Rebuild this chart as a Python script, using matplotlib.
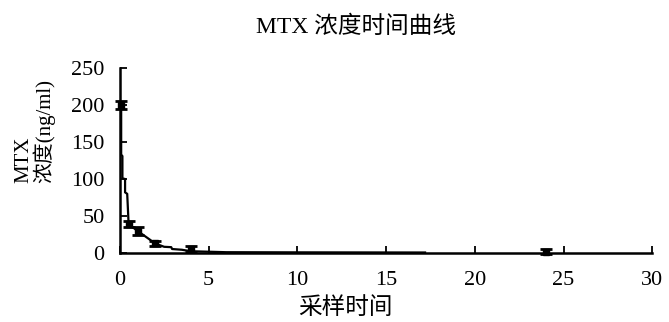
import matplotlib
matplotlib.use("Agg")
import matplotlib.pyplot as plt

plt.rcParams['font.family'] = ['Liberation Serif', 'Noto Sans CJK SC']

# ── Data ───────────────────────────────────────────────────────────────────────
# sampled points with error bars
t_points = [0.08, 0.5, 1, 2, 4, 24]
c_points = [200, 39, 30, 13, 5, 2]
c_err = [5, 4, 5, 4, 4, 3]

# concentration curve drawn through the samples
t_line = [0.08, 0.08, 0.15, 0.15, 0.3, 0.3, 0.42, 0.5, 1, 2, 2.5, 2.9, 2.95, 3.5, 4, 6, 10, 17.2]
c_line = [200, 133, 131, 101, 100, 82, 80, 39, 30, 13, 8.5, 8, 5.5, 4.5, 2.5, 1.2, 1.0, 0.8]

x_ticks = [0, 5, 10, 15, 20, 25, 30]
y_ticks = [0, 50, 100, 150, 200, 250]

# ── Figure ─────────────────────────────────────────────────────────────────────
fig = plt.figure(figsize=(6.69, 3.22), dpi=100)
ax = fig.add_axes([0.179, 0.214, 0.796, 0.575])

ax.plot(t_line, c_line, color="black", linewidth=1.6)
eb = ax.errorbar(t_points, c_points, yerr=c_err, fmt="s", color="black",
                 markersize=4, elinewidth=2, capsize=4, capthick=2)
for artist in eb.get_children():
    artist.set_clip_on(False)

ax.set_xlim(0, 30)
ax.set_ylim(0, 250)
ax.set_xticks(x_ticks)
ax.set_yticks(y_ticks)

for side in ("top", "right"):
    ax.spines[side].set_visible(False)
for side in ("left", "bottom"):
    ax.spines[side].set_linewidth(1.8)

ax.tick_params(axis="both", direction="in", length=5, width=1.3, labelsize=16)
ax.tick_params(axis="x", pad=13)
ax.tick_params(axis="y", pad=11)

fig.text(0.532, 0.916, "MTX 浓度时间曲线", ha="center", va="center", fontsize=17)
fig.text(0.516, 0.042, "采样时间", ha="center", va="center", fontsize=17)
fig.text(0.052, 0.432, "MTX\n浓度(ng/ml)", rotation=90, ha="center", va="bottom",
         multialignment="left", fontsize=15, linespacing=1.0)

fig.savefig("out.png", dpi=100)
